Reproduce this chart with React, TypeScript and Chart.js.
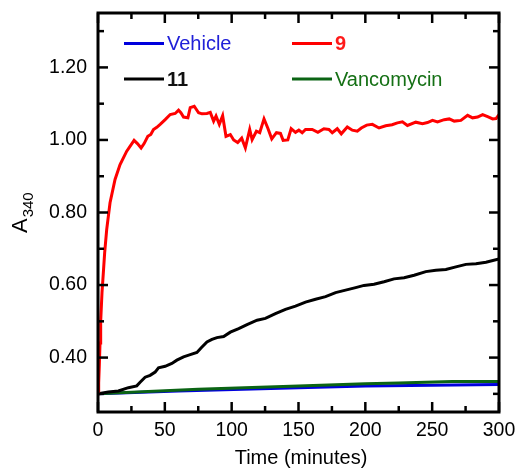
import { useEffect, useRef } from "react";
import { Chart, registerables } from "chart.js";

Chart.register(...registerables);

const FONT = '"Liberation Sans", Arial, Helvetica, sans-serif';

// ---- axis ticks ----
const xTickLabels = [0, 50, 100, 150, 200, 250, 300];
const xTickMarks = [0, 25, 50, 75, 100, 125, 150, 175, 200, 225, 250, 275, 300];
const yTickLabels = [0.4, 0.6, 0.8, 1.0, 1.2];
const yTickMarks = [0.3, 0.4, 0.5, 0.6, 0.7, 0.8, 0.9, 1.0, 1.1, 1.2, 1.3];

// ---- series ----
const seriesLabels = ["Vehicle", "9", "11", "Vancomycin"];

const vehicleT = [0, 60, 150, 200, 250, 300];
const vehicleV = [0.3, 0.308, 0.317, 0.3216, 0.324, 0.326];

const cmpd9T = [
  0, 0.5, 1, 1.5, 2, 3, 4, 5, 6.5, 9, 12.75, 16.5, 21.5, 27, 29.5, 32.25, 34.5, 37.25, 39.5, 41.5,
  44, 46.5, 50.25, 54, 57.75, 60.25, 62, 64, 67.25, 69, 72, 75.25, 77.75, 81.5, 84, 86.5, 88.3,
  90.75, 93.25, 95.75, 99, 101.5, 104.5, 107.5, 110.25, 113.5, 115.3, 118.5, 121, 124.2, 127, 130,
  133.5, 136.5, 138.5, 142, 144.5, 147.75, 150.25, 152.75, 155.25, 160.25, 164.5, 169, 172.75,
  175.25, 179, 182, 186.5, 190.25, 194, 197, 201, 205.25, 210.25, 215.25, 220, 224, 227.75, 231.5,
  237.75, 242.75, 246.5, 250.25, 254, 259, 262.75, 266.5, 271.5, 276.5, 280.25, 284, 287.75, 291.5,
  295.25, 297.75, 300,
];
const cmpd9V = [
  0.3, 0.33, 0.38, 0.44, 0.5, 0.58, 0.634, 0.69, 0.753, 0.827, 0.891, 0.932, 0.969, 0.999, 0.99,
  0.978, 0.99, 1.01, 1.015, 1.029, 1.035, 1.043, 1.056, 1.07, 1.073, 1.082, 1.075, 1.063, 1.061,
  1.089, 1.093, 1.075, 1.072, 1.073, 1.076, 1.052, 1.066, 1.043, 1.067, 1.01, 1.015, 1.0, 0.993,
  1.005, 0.978, 1.029, 1.001, 1.024, 1.02, 1.058, 1.033, 1.003, 1.02, 1.018, 0.999, 1.0, 1.031,
  1.021, 1.027, 1.02, 1.029, 1.029, 1.021, 1.031, 1.029, 1.02, 1.031, 1.017, 1.036, 1.027, 1.024,
  1.033, 1.041, 1.043, 1.033, 1.039, 1.042, 1.047, 1.05, 1.04, 1.049, 1.045, 1.048, 1.054, 1.05,
  1.056, 1.058, 1.052, 1.054, 1.068, 1.061, 1.063, 1.07, 1.064, 1.058, 1.059, 1.07,
];

const cmpd11T = [
  0, 7.75, 15.25, 22.75, 29, 31.5, 35.25, 39, 42.75, 45.25, 50.25, 55.25, 59, 64, 69, 74, 77.25,
  81.5, 85.25, 89, 94, 99, 105.25, 111.5, 119, 125.25, 132.75, 140.25, 147.75, 155.25, 162.75,
  170.25, 177.75, 185.25, 192.75, 199, 206.5, 214, 221.5, 229, 236.5, 245.25, 252.75, 260.25,
  267.75, 275.25, 282.75, 290.25, 300,
];
const cmpd11V = [
  0.3, 0.305, 0.308, 0.317, 0.322, 0.332, 0.346, 0.351, 0.36, 0.372, 0.376, 0.384, 0.393, 0.402,
  0.408, 0.414, 0.427, 0.443, 0.45, 0.455, 0.458, 0.47, 0.48, 0.491, 0.503, 0.508, 0.521, 0.533,
  0.542, 0.553, 0.561, 0.568, 0.579, 0.586, 0.593, 0.599, 0.602, 0.609, 0.617, 0.62, 0.627, 0.637,
  0.641, 0.643, 0.65, 0.657, 0.659, 0.663, 0.672,
];

const vancoT = [0, 75, 150, 200, 225, 265, 300];
const vancoV = [0.3, 0.3125, 0.322, 0.328, 0.33, 0.334, 0.334];

const lineColors = ["#0000dd", "#ff0000", "#000000", "#0b6414"];
const textColors = ["#2020d8", "#ff1a1a", "#111111", "#157015"];
const textBold = [false, true, true, false];

const toXY = (t: number[], v: number[]) => t.map((tt, i) => ({ x: tt, y: v[i] }));

const framePlugin = {
  id: "frame",
  afterDatasetsDraw(chart: any) {
    const { ctx, chartArea: a, scales } = chart;
    const xs = scales.x;
    const ys = scales.y;
    ctx.save();
    ctx.strokeStyle = "#000";
    ctx.lineWidth = 2.5;
    ctx.lineCap = "butt";
    const seg = (x1: number, y1: number, x2: number, y2: number) => {
      ctx.beginPath();
      ctx.moveTo(x1, y1);
      ctx.lineTo(x2, y2);
      ctx.stroke();
    };
    for (const t of xTickMarks) {
      const px = xs.getPixelForValue(t);
      const len = xTickLabels.includes(t) ? 10 : 6;
      seg(px, a.bottom, px, a.bottom - len);
      seg(px, a.top, px, a.top + len);
    }
    for (const v of yTickMarks) {
      const py = ys.getPixelForValue(v);
      const major = yTickLabels.some((l) => Math.abs(l - v) < 1e-6);
      const len = major ? 10 : 6;
      seg(a.left, py, a.left + len, py);
      seg(a.right, py, a.right - len, py);
    }
    ctx.lineWidth = 3;
    ctx.strokeRect(a.left, a.top, a.right - a.left, a.bottom - a.top);

    // legend
    const cols = [26, 194];
    const rows = [30.5, 66];
    const order = [0, 1, 2, 3];
    order.forEach((di, k) => {
      const ds = chart.data.datasets[di];
      const lx = a.left + cols[k % 2];
      const ly = a.top + rows[Math.floor(k / 2)];
      ctx.strokeStyle = ds.borderColor;
      ctx.lineWidth = 3;
      seg(lx, ly, lx + 40, ly);
      ctx.fillStyle = textColors[di];
      ctx.font = `${textBold[di] ? "bold " : ""}20px ${FONT}`;
      ctx.textAlign = "left";
      ctx.textBaseline = "middle";
      ctx.fillText(ds.label, lx + 43, ly + 1);
    });

    // x title
    ctx.fillStyle = "#000";
    ctx.font = `20px ${FONT}`;
    ctx.textAlign = "center";
    ctx.textBaseline = "middle";
    ctx.fillText("Time (minutes)", 301, 458);

    // y title with subscript
    ctx.save();
    ctx.translate(27, 233);
    ctx.rotate(-Math.PI / 2);
    ctx.textAlign = "left";
    ctx.textBaseline = "alphabetic";
    ctx.font = `22px ${FONT}`;
    ctx.fillText("A", 0, 0);
    const wA = ctx.measureText("A").width;
    ctx.font = `15px ${FONT}`;
    ctx.fillText("340", wA + 1, 6);
    ctx.restore();

    ctx.restore();
  },
};

export default function App() {
  const ref = useRef<HTMLCanvasElement | null>(null);
  useEffect(() => {
    if (!ref.current) return;
    const chart = new Chart(ref.current, {
      type: "line",
      data: {
        datasets: [
          { label: seriesLabels[0], data: toXY(vehicleT, vehicleV), borderColor: lineColors[0], borderWidth: 3, order: 4 },
          { label: seriesLabels[1], data: toXY(cmpd9T, cmpd9V), borderColor: lineColors[1], borderWidth: 3, order: 1 },
          { label: seriesLabels[2], data: toXY(cmpd11T, cmpd11V), borderColor: lineColors[2], borderWidth: 3, order: 2 },
          { label: seriesLabels[3], data: toXY(vancoT, vancoV), borderColor: lineColors[3], borderWidth: 3, order: 3 },
        ],
      },
      options: {
        responsive: false,
        animation: false,
        devicePixelRatio: 1,
        layout: { padding: { left: 0, top: 13, right: 18, bottom: 0 } },
        elements: { point: { radius: 0 }, line: { tension: 0, fill: false } },
        plugins: { legend: { display: false }, tooltip: { enabled: false } },
        scales: {
          x: {
            type: "linear",
            min: 0,
            max: 300,
            grid: { display: false, drawTicks: false },
            border: { display: false },
            afterBuildTicks: (s: any) => {
              s.ticks = xTickLabels.map((v) => ({ value: v }));
            },
            afterFit: (s: any) => {
              s.height = 56;
              s.paddingLeft = 0;
              s.paddingRight = 0;
            },
            ticks: {
              autoSkip: false,
              maxRotation: 0,
              padding: 7,
              color: "#000",
              font: { family: FONT, size: 19.5 },
              callback: (v: any) => String(v),
            },
          },
          y: {
            type: "linear",
            min: 0.25,
            max: 1.35,
            grid: { display: false, drawTicks: false },
            border: { display: false },
            afterBuildTicks: (s: any) => {
              s.ticks = yTickLabels.map((v) => ({ value: v }));
            },
            afterFit: (s: any) => {
              s.width = 98;
              s.paddingTop = 0;
              s.paddingBottom = 0;
            },
            ticks: {
              autoSkip: false,
              padding: 11,
              color: "#000",
              font: { family: FONT, size: 19.5 },
              callback: (v: any) => Number(v).toFixed(2),
            },
          },
        },
      },
      plugins: [framePlugin],
    } as any);
    return () => chart.destroy();
  }, []);
  return (
    <div style={{ position: "absolute", left: 0, top: 0, width: 517, height: 468, background: "#fff" }}>
      <canvas ref={ref} width={517} height={468} />
    </div>
  );
}
